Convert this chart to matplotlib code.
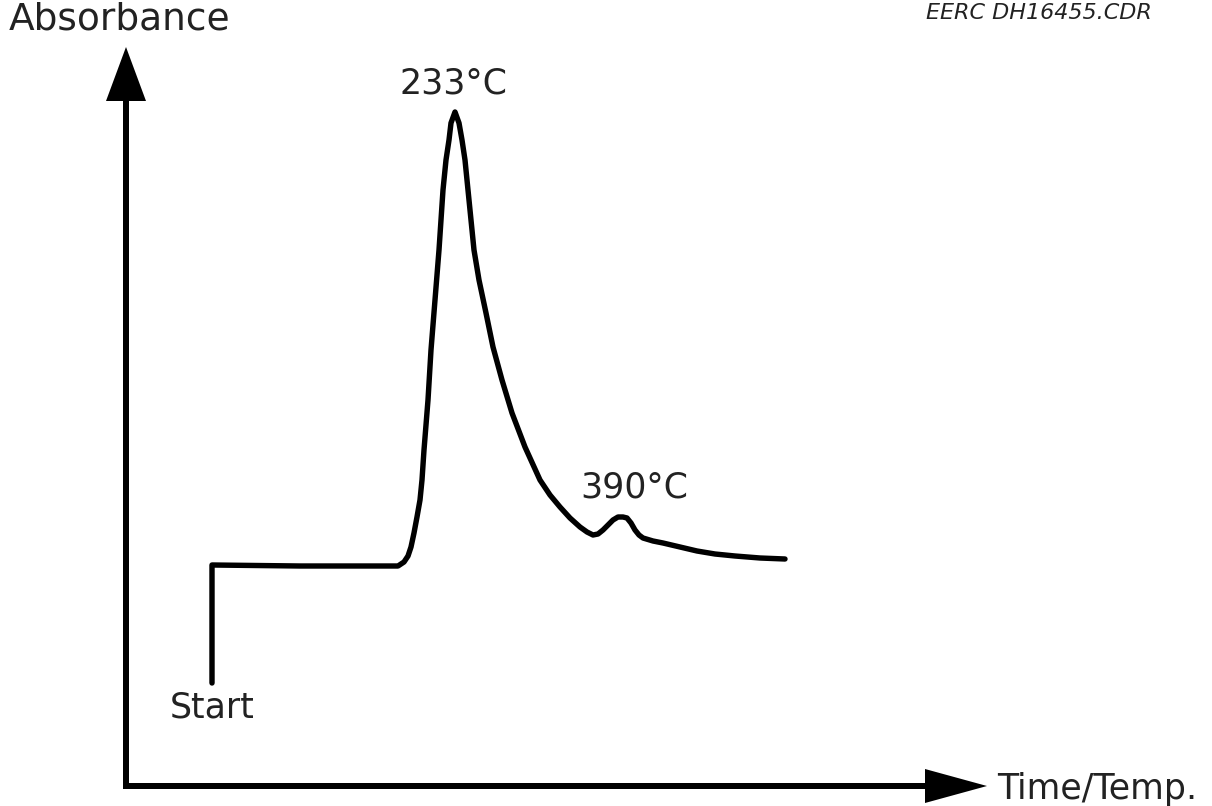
import matplotlib
matplotlib.use("Agg")
import matplotlib.pyplot as plt

# curve (x to the right, y downwards, in picture units)
trace_x = [212, 212, 300, 398, 404, 408, 411, 414, 417, 420, 422, 424, 426, 428,
           431, 435, 439, 443, 446, 449, 451, 455, 459, 462, 465, 468, 471, 474,
           479, 486, 493, 502, 512, 525, 540, 550, 560, 570, 580, 587, 593, 598,
           603, 608, 613, 618, 623, 627, 631, 635, 639, 643, 653, 663, 680, 697,
           715, 735, 760, 785]
trace_y = [683, 565, 566, 566, 562, 556, 547, 533, 517, 500, 480, 450, 425, 400,
           350, 300, 250, 190, 160, 140, 123, 112, 123, 140, 160, 190, 220, 250,
           280, 313, 347, 380, 413, 447, 480, 495, 507, 518, 527, 532, 535, 534,
           530, 525, 520, 517, 517, 518, 523, 530, 535, 538, 541, 543, 547, 551,
           554, 556, 558, 559]

peak_labels = ["233\u00b0C", "390\u00b0C"]
peak_label_x = [453, 634]
peak_label_y = [83, 488]

txt_col = "#222222"

fig = plt.figure(figsize=(12.12, 8.06), dpi=100)
ax = fig.add_axes([0, 0, 1, 1])
ax.set_xlim(0, 1212)
ax.set_ylim(806, 0)
ax.axis("off")

# axes arrows
ax.arrow(126, 789, 0, -742, width=6, head_width=40, head_length=54,
         length_includes_head=True, color="black", lw=0)
ax.arrow(123, 786, 864, 0, width=6, head_width=34, head_length=62,
         length_includes_head=True, color="black", lw=0)

ax.plot(trace_x, trace_y, color="black", lw=3.9, solid_joinstyle="round",
        solid_capstyle="round")

for lab, lx, ly in zip(peak_labels, peak_label_x, peak_label_y):
    ax.text(lx, ly, lab, fontsize=25, color=txt_col, ha="center", va="center")

ax.text(9, 20, "Absorbance", fontsize=27, color=txt_col, ha="left", va="center")
ax.text(170, 707, "Start", fontsize=25, color=txt_col, ha="left", va="center")
ax.text(997, 789, "Time/Temp.", fontsize=25, color=txt_col, ha="left", va="center")
ax.text(926, 13, "EERC DH16455.CDR", fontsize=16, style="italic",
        color=txt_col, ha="left", va="center")

fig.savefig("out.png", dpi=100)
